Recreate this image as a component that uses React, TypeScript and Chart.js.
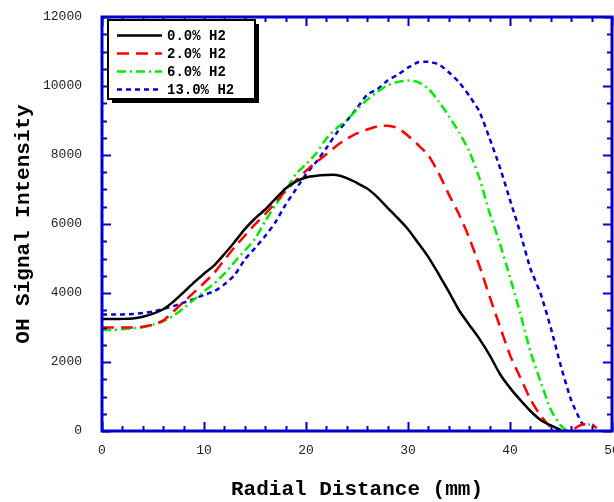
import React, { useEffect, useRef } from 'react';
import { Chart, registerables } from 'chart.js';

Chart.register(...registerables);

// Radial distance (mm)
const radius = [0, 1, 2, 3, 4, 5, 6, 7, 8, 9, 10, 11, 12, 13, 14, 15, 16, 17, 18, 19, 20, 21, 22, 23, 24, 25, 26, 27, 28, 29, 30, 31, 32, 33, 34, 35, 36, 37, 38, 39, 40, 41, 42, 43, 44, 45];
const radiusRedTail = [46, 47, 48, 48.5];
const radiusGreenTail = [45.5];
const radiusBlueTail = [46, 47, 47.3, 47.8];

// OH signal intensity
const h2_00 = [3250, 3250, 3250, 3260, 3310, 3400, 3530, 3750, 4020, 4300, 4560, 4800, 5130, 5480, 5850, 6160, 6420, 6730, 7030, 7230, 7350, 7400, 7420, 7420, 7330, 7190, 7030, 6780, 6470, 6170, 5850, 5450, 5040, 4550, 4040, 3500, 3080, 2670, 2200, 1660, 1250, 900, 580, 320, 160, 30];
const h2_02 = [3000, 3000, 3000, 3000, 3020, 3080, 3200, 3460, 3740, 4010, 4290, 4580, 4960, 5330, 5660, 5990, 6290, 6620, 6960, 7260, 7540, 7790, 8020, 8270, 8470, 8630, 8740, 8830, 8850, 8780, 8560, 8290, 7990, 7480, 6860, 6280, 5600, 4790, 3900, 3040, 2200, 1560, 920, 450, 110, 0];
const h2_02Tail = [20, 180, 200, 80];
const h2_06 = [2930, 2930, 2950, 2980, 3010, 3080, 3180, 3340, 3560, 3800, 4050, 4270, 4560, 4900, 5230, 5570, 6080, 6550, 6960, 7450, 7730, 8050, 8480, 8780, 9010, 9320, 9600, 9830, 10020, 10120, 10160, 10110, 9920, 9560, 9130, 8660, 8110, 7330, 6320, 5440, 4460, 3420, 2300, 1430, 620, 150];
const h2_06Tail = [30];
const h2_13 = [3380, 3380, 3380, 3390, 3420, 3460, 3540, 3620, 3720, 3820, 3950, 4050, 4250, 4520, 4970, 5300, 5650, 6050, 6560, 7000, 7440, 7800, 8200, 8640, 8990, 9360, 9750, 9910, 10160, 10330, 10530, 10690, 10700, 10630, 10400, 10110, 9720, 9260, 8480, 7650, 6700, 5750, 4710, 3980, 2990, 1870];
const h2_13Tail = [890, 250, 180, 190];

const seriesLabels = ['0.0% H2', '2.0% H2', '6.0% H2', '13.0% H2'];
const xTickLabels = ['0', '10', '20', '30', '40', '50'];
const yTickLabels = ['0', '2000', '4000', '6000', '8000', '10000', '12000'];

const AXIS_COLOR = '#0000cc';
const MONO = '"Liberation Mono", "Courier New", monospace';

const toPoints = (xs: number[], ys: number[]) => xs.map((x, i) => ({ x, y: ys[i] }));

const seriesStyles = [
  { color: '#000000', dash: [] as number[] },
  { color: '#ff0000', dash: [12, 7] },
  { color: '#00ee00', dash: [9, 4, 2, 4] },
  { color: '#0000dd', dash: [5, 4] },
];

const framePlugin = {
  id: 'frameTicks',
  afterDatasetsDraw(chart: any) {
    const { ctx, chartArea, scales } = chart;
    const { left, right, top, bottom } = chartArea;
    const xs = scales.x;
    const ys = scales.y;
    ctx.save();
    ctx.strokeStyle = AXIS_COLOR;
    ctx.lineWidth = 2;
    ctx.beginPath();
    for (let v = 0; v <= 50; v += 2) {
      const px = Math.round(xs.getPixelForValue(v)) + 0.5;
      const len = v % 10 === 0 ? 9 : 5;
      ctx.moveTo(px, bottom);
      ctx.lineTo(px, bottom - len);
      ctx.moveTo(px, top);
      ctx.lineTo(px, top + len);
    }
    for (let v = 0; v <= 12000; v += 500) {
      const py = Math.round(ys.getPixelForValue(v)) + 0.5;
      const len = v % 2000 === 0 ? 9 : 5;
      ctx.moveTo(left, py);
      ctx.lineTo(left + len, py);
      ctx.moveTo(right, py);
      ctx.lineTo(right - len, py);
    }
    ctx.stroke();
    ctx.lineWidth = 3;
    ctx.strokeRect(left, top, right - left, bottom - top);

    // legend box
    const bx = 108, by = 20, bw = 147, bh = 79;
    ctx.fillStyle = '#000';
    ctx.fillRect(bx + 4, by + 4, bw, bh);
    ctx.fillStyle = '#fff';
    ctx.fillRect(bx, by, bw, bh);
    ctx.strokeStyle = '#000';
    ctx.lineWidth = 2;
    ctx.strokeRect(bx, by, bw, bh);
    ctx.font = `bold 14px ${MONO}`;
    ctx.textBaseline = 'middle';
    ctx.textAlign = 'left';
    seriesLabels.forEach((label, i) => {
      const yy = by + 15.5 + i * 18;
      const st = seriesStyles[i];
      ctx.beginPath();
      ctx.setLineDash(st.dash);
      ctx.strokeStyle = st.color;
      ctx.lineWidth = 2.5;
      ctx.moveTo(bx + 9, yy);
      ctx.lineTo(bx + 54, yy);
      ctx.stroke();
      ctx.setLineDash([]);
      ctx.fillStyle = '#000';
      ctx.fillText(label, bx + 59, yy + 1);
    });
    ctx.restore();
  },
};

export default function App() {
  const ref = useRef<HTMLCanvasElement | null>(null);
  useEffect(() => {
    document.body.style.margin = '0';
    const canvas = ref.current!;
    const datasets = [
      toPoints(radius, h2_00),
      toPoints([...radius, ...radiusRedTail], [...h2_02, ...h2_02Tail]),
      toPoints([...radius, ...radiusGreenTail], [...h2_06, ...h2_06Tail]),
      toPoints([...radius, ...radiusBlueTail], [...h2_13, ...h2_13Tail]),
    ].map((data, i) => ({
      label: seriesLabels[i],
      data,
      borderColor: seriesStyles[i].color,
      backgroundColor: seriesStyles[i].color,
      borderDash: seriesStyles[i].dash,
      borderWidth: 2.5,
      pointRadius: 0,
      tension: 0.2,
      fill: false,
    }));
    const chart = new Chart(canvas, {
      type: 'line',
      data: { datasets },
      options: {
        animation: false,
        responsive: false,
        devicePixelRatio: 1,
        layout: { padding: { top: 17, right: 2, left: 0, bottom: 0 } },
        plugins: { legend: { display: false }, tooltip: { enabled: false } },
        scales: {
          x: {
            type: 'linear',
            min: 0,
            max: 50,
            grid: { display: false, drawTicks: false },
            border: { display: false },
            ticks: {
              stepSize: 10,
              padding: 12,
              maxRotation: 0,
              autoSkip: false,
              color: '#222',
              font: { family: MONO, size: 13 },
              callback: (v: any) => xTickLabels[Math.round(Number(v) / 10)] ?? '',
            },
            title: {
              display: true,
              text: 'Radial Distance (mm)',
              color: '#000',
              font: { family: MONO, size: 21, weight: 'bold' },
              padding: { top: 0, bottom: 0 },
            },
            afterFit: (s: any) => { s.height = 71; s.paddingLeft = 0; s.paddingRight = 0; },
          },
          y: {
            type: 'linear',
            min: 0,
            max: 12000,
            grid: { display: false, drawTicks: false },
            border: { display: false },
            ticks: {
              stepSize: 2000,
              padding: 20,
              autoSkip: false,
              color: '#222',
              font: { family: MONO, size: 13 },
              callback: (v: any) => yTickLabels[Math.round(Number(v) / 2000)] ?? '',
            },
            title: {
              display: true,
              text: 'OH Signal Intensity',
              color: '#000',
              font: { family: MONO, size: 21, weight: 'bold' },
              padding: { top: 11, bottom: 0 },
            },
            afterFit: (s: any) => { s.width = 102; s.paddingTop = 0; s.paddingBottom = 0; },
          },
        },
      },
      plugins: [framePlugin],
    });
    return () => chart.destroy();
  }, []);
  return <canvas ref={ref} width={614} height={502} style={{ display: 'block' }} />;
}
